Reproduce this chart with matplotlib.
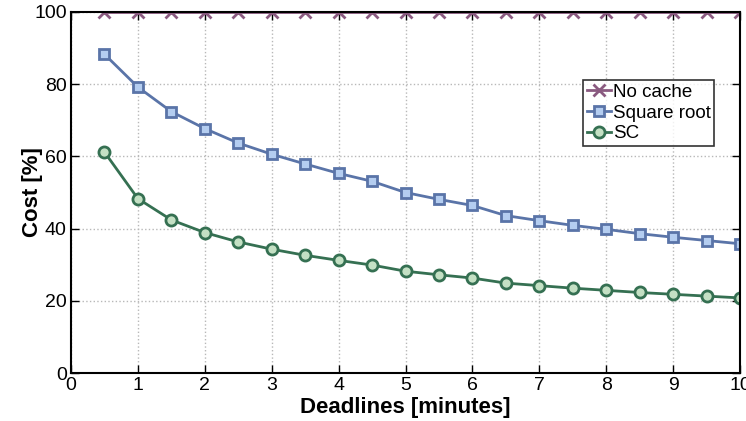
import numpy as np
import matplotlib.pyplot as plt

deadlines = [0.5, 1, 1.5, 2, 2.5, 3, 3.5, 4, 4.5, 5, 5.5, 6, 6.5, 7, 7.5, 8, 8.5, 9, 9.5, 10]
no_cache = [100] * 20
square_root = [88.3, 79.2, 72.4, 67.7, 63.7, 60.6, 57.9, 55.3, 53.1, 50.0,
               48.1, 46.4, 43.6, 42.2, 40.9, 39.8, 38.6, 37.6, 36.7, 35.8]
sc = [61.2, 48.3, 42.4, 38.9, 36.3, 34.3, 32.6, 31.2, 29.9, 28.2,
      27.2, 26.3, 24.9, 24.2, 23.5, 22.9, 22.3, 21.8, 21.3, 20.8]

plt.rcParams['font.family'] = ['Liberation Sans', 'DejaVu Sans']

fig = plt.figure(figsize=(7.46, 4.21), dpi=100)
ax = fig.add_axes([71 / 746, 1 - 373 / 421, 669 / 746, 361 / 421])

ax.plot(deadlines, no_cache, color='#8a5a80', marker='x', markersize=9, mew=2, lw=2, label='No cache')
ax.plot(deadlines, square_root, color='#5a74a8', marker='s', markersize=7, mew=2,
        markerfacecolor='#b4cdf0', lw=2, label='Square root')
ax.plot(deadlines, sc, color='#357052', marker='o', markersize=8, mew=2,
        markerfacecolor='#c4e0c4', lw=2, label='SC')

ax.set_xlim(0, 10)
ax.set_ylim(0, 100)
ax.set_xticks(range(0, 11))
ax.set_yticks(range(0, 101, 20))
ax.grid(True, linestyle=':', color='#b8b8b8', lw=1)
ax.tick_params(direction='in', labelsize=14, top=True, right=True, length=6, width=1, pad=3)
for s in ax.spines.values():
    s.set_linewidth(1.5)
ax.set_xlabel('Deadlines [minutes]', fontsize=16, fontweight='bold', labelpad=2)
ax.set_ylabel('Cost [%]', fontsize=16, fontweight='bold', labelpad=-6)

leg = ax.legend(loc='upper left', bbox_to_anchor=(0.765, 0.812), fontsize=13.5, frameon=True,
                fancybox=False, edgecolor='black', handlelength=1.3, handletextpad=0.1,
                borderpad=0.2, labelspacing=0.2, borderaxespad=0)
leg.get_frame().set_linewidth(1.2)

fig.savefig('out.png', dpi=100)
